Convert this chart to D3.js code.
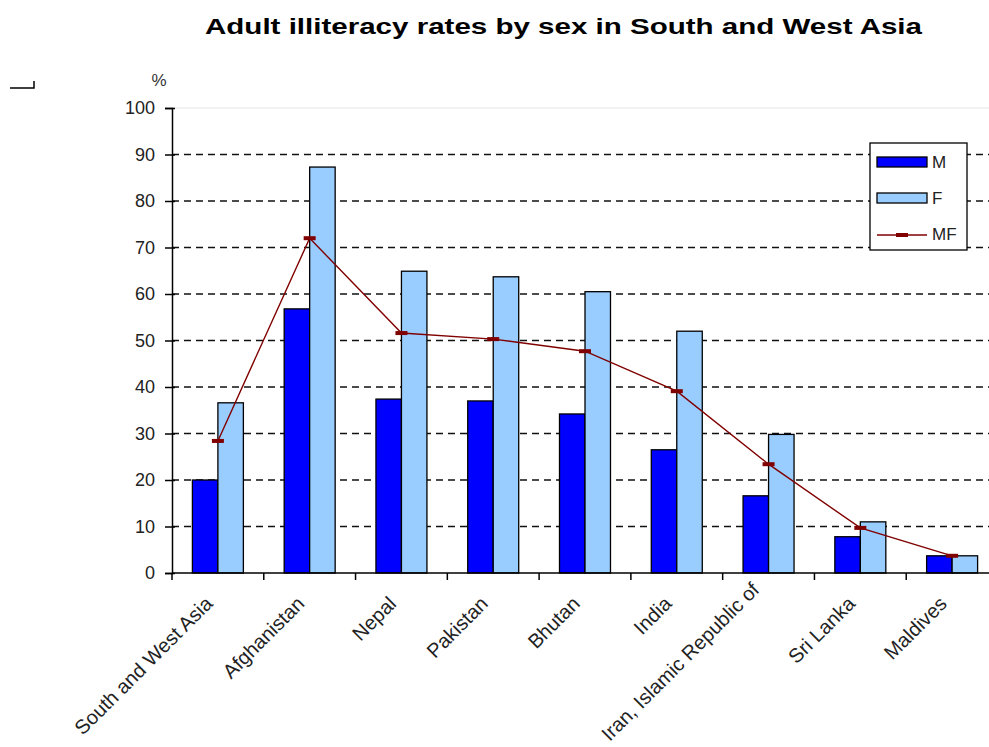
<!DOCTYPE html>
<html>
<head>
<meta charset="utf-8">
<script src="https://cdn.jsdelivr.net/npm/d3@7"></script>
<style>
  body { margin: 0; background: #fff; }
  svg { display: block; font-family: Arial, "Liberation Sans", sans-serif; }
</style>
</head>
<body>
<div id="chart"></div>
<script>
// data
const categories = ["South and West Asia", "Afghanistan", "Nepal", "Pakistan", "Bhutan",
                    "India", "Iran, Islamic Republic of", "Sri Lanka", "Maldives"];
const maleValues   = [20.0, 56.8, 37.4, 37.0, 34.2, 26.5, 16.6, 7.8, 3.7];
const femaleValues = [36.6, 87.3, 64.9, 63.7, 60.5, 52.0, 29.8, 11.0, 3.7];
const totalValues  = [28.4, 72.0, 51.6, 50.3, 47.7, 39.1, 23.4, 9.7, 3.7];
const yTicks = [0, 10, 20, 30, 40, 50, 60, 70, 80, 90, 100];
const seriesNames = ["M", "F", "MF"];

function drawChart(targetId) {
    const container = document.getElementById(targetId);
    container.innerHTML = '';

    const width = 989;
    const height = 747;
    const left = 172, right = 998, top = 108, bottom = 573;

    const svg = d3.select(container).append("svg")
        .attr("width", width)
        .attr("height", height);

    // title (stretched wide like the original screenshot)
    svg.append("text")
        .attr("x", 205)
        .attr("y", 34)
        .attr("font-size", 22)
        .attr("font-weight", "bold")
        .attr("textLength", 717)
        .attr("lengthAdjust", "spacingAndGlyphs")
        .text("Adult illiteracy rates by sex in South and West Asia");

    // odd little corner mark top left
    svg.append("path")
        .attr("d", "M10,88H34V81")
        .attr("stroke", "#000")
        .attr("stroke-width", 1.5)
        .attr("fill", "none");

    svg.append("text")
        .attr("x", 159)
        .attr("y", 86)
        .attr("text-anchor", "middle")
        .attr("font-size", 17)
        .attr("fill", "#333")
        .text("%");

    const y = d3.scaleLinear().domain([0, 100]).range([bottom, top]);
    const x = d3.scaleBand().domain(categories).range([left, right]);
    const xInner = d3.scaleBand().domain(["M", "F"]).range([0, x.bandwidth()]).paddingOuter(0.8);

    // grid lines
    svg.selectAll("line.grid")
        .data(yTicks.filter(d => d > 0 && d < 100))
        .enter()
        .append("line")
        .attr("class", "grid")
        .attr("x1", left)
        .attr("x2", right)
        .attr("y1", d => y(d))
        .attr("y2", d => y(d))
        .attr("stroke", "#111")
        .attr("stroke-width", 1.4)
        .attr("stroke-dasharray", "7,5");

    svg.append("line")
        .attr("x1", left).attr("x2", right)
        .attr("y1", y(100)).attr("y2", y(100))
        .attr("stroke", "#e6e6e6")
        .attr("stroke-width", 1);

    // bars
    const groups = svg.selectAll("g.cat")
        .data(categories)
        .enter()
        .append("g")
        .attr("transform", d => `translate(${x(d)},0)`);

    groups.append("rect")
        .attr("x", xInner("M"))
        .attr("y", (d, i) => y(maleValues[i]))
        .attr("width", xInner.bandwidth())
        .attr("height", (d, i) => y(0) - y(maleValues[i]))
        .attr("fill", "#0000ff")
        .attr("stroke", "#000")
        .attr("stroke-width", 1.3);

    groups.append("rect")
        .attr("x", xInner("F"))
        .attr("y", (d, i) => y(femaleValues[i]))
        .attr("width", xInner.bandwidth())
        .attr("height", (d, i) => y(0) - y(femaleValues[i]))
        .attr("fill", "#99ccff")
        .attr("stroke", "#000")
        .attr("stroke-width", 1.3);

    // MF line
    const mid = c => x(c) + x.bandwidth() / 2;
    svg.append("path")
        .attr("d", d3.line()(categories.map((c, i) => [mid(c), y(totalValues[i])])))
        .attr("stroke", "#800000")
        .attr("stroke-width", 1.4)
        .attr("fill", "none");

    svg.selectAll("rect.mark")
        .data(categories)
        .enter()
        .append("rect")
        .attr("x", d => mid(d) - 6)
        .attr("y", (d, i) => y(totalValues[i]) - 2)
        .attr("width", 12)
        .attr("height", 4)
        .attr("fill", "#800000");

    // y axis
    const yAxis = svg.append("g")
        .attr("transform", `translate(${left},0)`)
        .call(d3.axisLeft(y).tickValues(yTicks).tickSize(7).tickPadding(10));
    yAxis.select(".domain").attr("stroke", "#000").attr("stroke-width", 1.5);
    yAxis.selectAll(".tick line").attr("stroke", "#000").attr("stroke-width", 1.5).attr("x2", -7).attr("x1", 3);
    yAxis.selectAll(".tick text").attr("font-size", 18).attr("fill", "#222")
        .attr("font-family", "Arial, 'Liberation Sans', sans-serif");

    // x axis
    const xAxisG = svg.append("g").attr("transform", `translate(0,${bottom})`);
    xAxisG.append("line")
        .attr("x1", left).attr("x2", right)
        .attr("stroke", "#000").attr("stroke-width", 1.5);
    xAxisG.selectAll("line.xtick")
        .data(categories)
        .enter()
        .append("line")
        .attr("x1", d => x(d)).attr("x2", d => x(d))
        .attr("y1", 0).attr("y2", 7)
        .attr("stroke", "#000").attr("stroke-width", 1.5);

    xAxisG.selectAll("text.xlab")
        .data(categories)
        .enter()
        .append("text")
        .attr("text-anchor", "end")
        .attr("font-size", 20)
        .attr("fill", "#222")
        .attr("transform", d => {
            const long = d.length > 20;
            return `translate(${mid(d) - (long ? 8 : 4)},${long ? 18 : 32}) rotate(-45)`;
        })
        .text(d => d);

    // legend
    const legend = svg.append("g").attr("transform", "translate(870,143)");
    legend.append("rect")
        .attr("width", 97).attr("height", 107)
        .attr("fill", "#fff").attr("stroke", "#000").attr("stroke-width", 1.3);

    const legendRows = [
        { name: seriesNames[0], fill: "#0000ff" },
        { name: seriesNames[1], fill: "#99ccff" },
        { name: seriesNames[2], fill: null }
    ];
    legendRows.forEach((row, i) => {
        const cy = 19 + i * 36;
        if (row.fill) {
            legend.append("rect")
                .attr("x", 7).attr("y", cy - 5)
                .attr("width", 50).attr("height", 10)
                .attr("fill", row.fill).attr("stroke", "#000").attr("stroke-width", 1.3);
        } else {
            legend.append("line")
                .attr("x1", 7).attr("x2", 57).attr("y1", cy + 1).attr("y2", cy + 1)
                .attr("stroke", "#800000").attr("stroke-width", 1.4);
            legend.append("rect")
                .attr("x", 26).attr("y", cy - 1).attr("width", 12).attr("height", 4)
                .attr("fill", "#800000");
        }
        legend.append("text")
            .attr("x", 62).attr("y", cy + 6)
            .attr("font-size", 17).attr("fill", "#222")
            .text(row.name);
    });
}

drawChart("chart");
</script>
</body>
</html>
